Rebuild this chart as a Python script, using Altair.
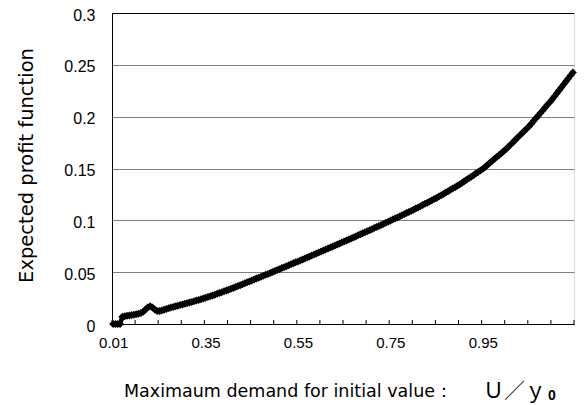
import json
import altair as alt
import pandas as pd

# Expected profit, one value per category position
profit = [
    0.0, 0.0, 0.0, 0.0, 0.0070, 0.0075, 0.0080, 0.0083, 0.0086, 0.0090,
    0.0095, 0.0100, 0.0105, 0.0118, 0.0140, 0.0160, 0.0172, 0.0160, 0.0140, 0.0125,
    0.0125, 0.0131, 0.0138, 0.0145, 0.0152, 0.0159, 0.0165, 0.0171, 0.0177, 0.0183,
    0.0189, 0.0195, 0.0201, 0.0207, 0.0213, 0.0219, 0.0226, 0.0232, 0.0239, 0.0246,
    0.0253, 0.0260, 0.0268, 0.0275, 0.0283, 0.0291, 0.0299, 0.0307, 0.0315, 0.0323,
    0.0331, 0.0339, 0.0348, 0.0357, 0.0366, 0.0375, 0.0384, 0.0393, 0.0402, 0.0411,
    0.0420, 0.0429, 0.0438, 0.0447, 0.0456, 0.0465, 0.0474, 0.0483, 0.0493, 0.0502,
    0.0511, 0.0520, 0.0529, 0.0539, 0.0548, 0.0557, 0.0566, 0.0576, 0.0585, 0.0595,
    0.0604, 0.0613, 0.0623, 0.0632, 0.0642, 0.0651, 0.0661, 0.0670, 0.0680, 0.0689,
    0.0699, 0.0709, 0.0718, 0.0728, 0.0737, 0.0747, 0.0757, 0.0767, 0.0776, 0.0786,
    0.0796, 0.0806, 0.0816, 0.0825, 0.0835, 0.0845, 0.0855, 0.0865, 0.0875, 0.0885,
    0.0895, 0.0905, 0.0915, 0.0925, 0.0935, 0.0945, 0.0955, 0.0965, 0.0976, 0.0986,
    0.0996, 0.1007, 0.1017, 0.1028, 0.1038, 0.1049, 0.1059, 0.1070, 0.1080, 0.1091,
    0.1101, 0.1113, 0.1124, 0.1136, 0.1147, 0.1159, 0.1170, 0.1182, 0.1193, 0.1205,
    0.1216, 0.1229, 0.1242, 0.1255, 0.1268, 0.1281, 0.1294, 0.1307, 0.1320, 0.1333,
    0.1346, 0.1361, 0.1376, 0.1391, 0.1406, 0.1421, 0.1436, 0.1451, 0.1466, 0.1481,
    0.1496, 0.1515, 0.1534, 0.1553, 0.1572, 0.1591, 0.1610, 0.1629, 0.1648, 0.1667,
    0.1686, 0.1708, 0.1730, 0.1752, 0.1774, 0.1796, 0.1818, 0.1840, 0.1862, 0.1884,
    0.1906, 0.1932, 0.1958, 0.1984, 0.2010, 0.2036, 0.2062, 0.2088, 0.2114, 0.2140,
    0.2166, 0.2195, 0.2224, 0.2253, 0.2282, 0.2311, 0.2340, 0.2369, 0.2398, 0.2427,
]
n_categories = len(profit)

# category axis: labelled categories and their labels
label_categories = [0, 40, 80, 120, 160]
x_tick_labels = ["0.01", "0.35", "0.55", "0.75", "0.95"]
# tick marks between categories (every 10th boundary)
tick_boundaries = [0, 10, 20, 30, 40, 50, 60, 70, 80, 90, 100,
                   110, 120, 130, 140, 150, 160, 170, 180, 190, 200]
y_ticks = [0, 0.05, 0.1, 0.15, 0.2, 0.25, 0.3]

y_title = "Expected profit function"
x_title_main = "Maximaum demand for initial value："
x_title_var = "Ｕ／ｙ"
x_title_sub = "0"

W, H = 462, 311
LABEL_FONT = "Liberation Sans"
TITLE_FONT = "DejaVu Sans"

df = pd.DataFrame({"pos": [i + 0.5 for i in range(n_categories)], "profit": profit})
df_ticks = pd.DataFrame({"tick": tick_boundaries})

label_map = {str(c + 0.5): t for c, t in zip(label_categories, x_tick_labels)}
x_scale = alt.Scale(domain=[0, n_categories], nice=False, zero=False)
x_axis = alt.Axis(
    values=[c + 0.5 for c in label_categories],
    labelExpr=json.dumps(label_map) + "['' + datum.value]",
    ticks=False, tickSize=0, domain=True, domainColor="black", grid=False,
    title=None, labelFont=LABEL_FONT, labelFontSize=15, labelColor="black",
    labelPadding=11, labelFlush=False,
)
y_scale = alt.Scale(domain=[0, 0.3], nice=False, zero=True)
y_axis = alt.Axis(
    values=y_ticks, format=".2~f", ticks=False, tickSize=0,
    domain=True, domainColor="black",
    grid=True,
    gridColor={"condition": {"test": "datum.value === 0 || datum.value === 0.3",
                             "value": "black"}, "value": "#808080"},
    gridWidth=1,
    labelFont=LABEL_FONT, labelFontSize=16, labelColor="black", labelPadding=17,
    labelOffset=2,
    title=y_title, titleFont=TITLE_FONT, titleFontSize=19.5, titleFontWeight="normal",
    titleColor="black", titleX=-86, titleY=152, titleAngle=-90,
    titleBaseline="middle", titleAlign="center",
)

base = alt.Chart(df).encode(
    x=alt.X("pos:Q", scale=x_scale, axis=x_axis),
    y=alt.Y("profit:Q", scale=y_scale, axis=y_axis),
)
line = base.mark_line(color="black", strokeWidth=4.5)
points = base.mark_point(shape="diamond", filled=True, size=64, color="black", opacity=1)

ticks = alt.Chart(df_ticks).mark_rule(color="black", strokeWidth=1).encode(
    x=alt.X("tick:Q", scale=x_scale, axis=x_axis),
    y=alt.value(H), y2=alt.value(H - 4),
)

t_main = alt.Chart(pd.DataFrame({"t": [x_title_main]})).mark_text(
    align="right", baseline="alphabetic", font=TITLE_FONT, fontSize=17.5, color="black"
).encode(x=alt.value(341), y=alt.value(384), text="t:N")
t_var = alt.Chart(pd.DataFrame({"t": [x_title_var]})).mark_text(
    align="left", baseline="alphabetic", font="Noto Sans CJK JP", fontSize=21, color="black"
).encode(x=alt.value(371), y=alt.value(385), text="t:N")
t_sub = alt.Chart(pd.DataFrame({"t": [x_title_sub]})).mark_text(
    align="left", baseline="alphabetic", font=LABEL_FONT, fontSize=14, fontWeight="bold",
    color="black"
).encode(x=alt.value(436), y=alt.value(387), text="t:N")

chart = alt.layer(ticks, line, points, t_main, t_var, t_sub).properties(
    width=W, height=H,
    autosize=alt.AutoSizeParams(type="none"),
    padding={"left": 104, "top": 5, "right": 6, "bottom": 80},
).configure_view(stroke="black", strokeWidth=1).configure(background="white")

chart.save("out.html", embed_options={"renderer": "svg", "actions": False})
